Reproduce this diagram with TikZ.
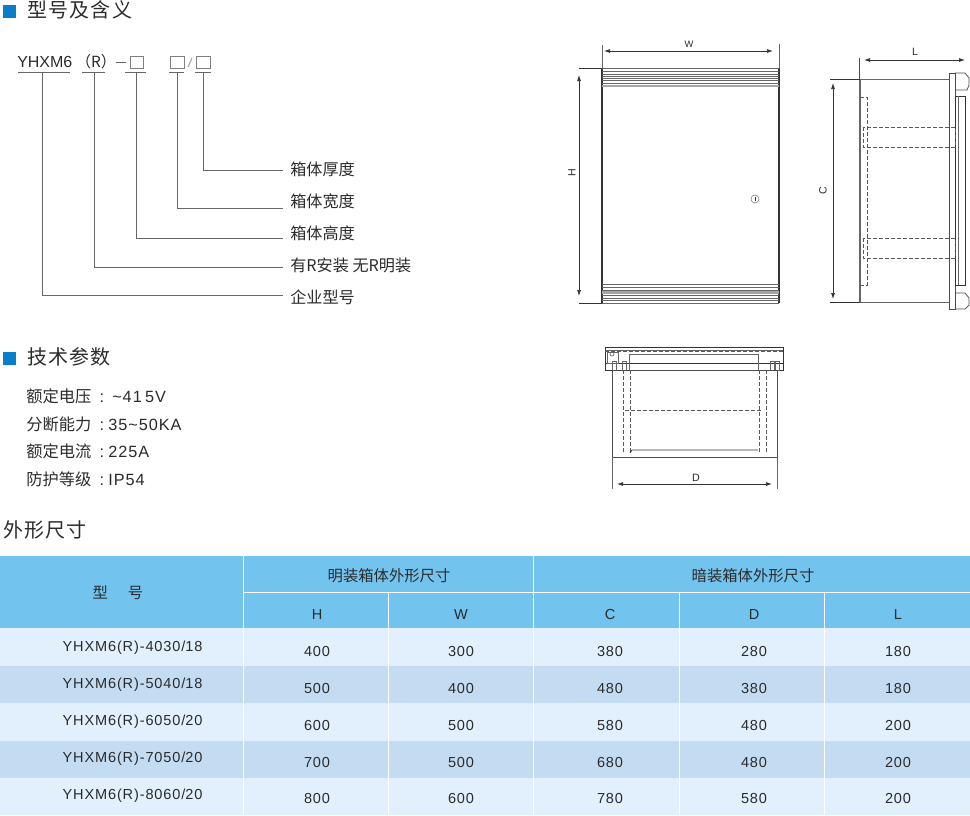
\documentclass[tikz,border=0pt]{standalone}
\usepackage{fontspec}
\setmainfont{Liberation Sans}
\newfontfamily\cjk{Noto Sans CJK SC}
\newfontfamily\cjkwide[LetterSpace=6]{Noto Sans CJK SC}
\newfontfamily\latinwide[LetterSpace=6]{Liberation Sans}
\usetikzlibrary{arrows,arrows.meta,positioning,calc}
\definecolor{markblue}{HTML}{0A7FC9}
\definecolor{headblue}{HTML}{73C3EF}
\definecolor{rowlight}{HTML}{E1F0FC}
\definecolor{rowdark}{HTML}{C4DCF2}
\definecolor{ink}{HTML}{2B2B2B}
\newcommand{\paramrow}[2]{\makebox[61.5pt][l]{\makebox[55pt][l]{\cjk #1}:}#2}
\tikzstyle{heading}=[anchor=west,inner sep=0pt,text=ink,font=\cjkwide\fontsize{15}{15}\selectfont]
\tikzstyle{mean}=[anchor=west,inner sep=0pt,text=ink,font=\cjk\fontsize{12.1}{12}\selectfont]
\tikzstyle{param}=[anchor=west,inner sep=0pt,text=ink,font=\latinwide\fontsize{12.2}{12}\selectfont]
\tikzstyle{cell}=[inner sep=0pt,text=ink,font=\latinwide\fontsize{10.9}{11}\selectfont]
\tikzstyle{headcell}=[inner sep=0pt,text=ink,font=\cjk\fontsize{11.5}{12}\selectfont]
\tikzstyle{dimtext}=[inner sep=0pt,text=ink,font=\fontsize{8}{8}\selectfont]
\tikzstyle{bullet}=[draw=none,fill=markblue,minimum size=9.5pt,inner sep=0pt]
\tikzstyle{lead}=[draw=black!60,line width=.7pt]
\tikzstyle{body}=[draw=black!80,line width=.55pt]
\tikzstyle{hidden}=[draw=black!65,line width=.55pt,dash pattern=on 3pt off 1.5pt]
\tikzstyle{dimline}=[draw=black!80,line width=.55pt,{Latex[length=4.5pt,width=3pt]}-{Latex[length=4.5pt,width=3pt]}]
\begin{document}
\begin{tikzpicture}[x=.75pt,y=-.75pt]
\useasboundingbox (0,0) rectangle (970,815);
% headings
\node [bullet] (m1) at (9.5,11.5) {};
\node [heading] (h1) at (27,9.5) {型号及含义};
\node [bullet] (m2) at (9.5,358.5) {};
\node [heading] (h2) at (27,357) {技术参数};
\node [heading] (h3) at (3,530) {外形尺寸};
% model code
\node [anchor=west,inner sep=0pt,text=ink,font=\fontsize{12}{12}\selectfont] (code) at (17,62) {YHXM6};
\node [inner sep=0pt,text=ink,font=\cjk\fontsize{11.5}{12}\selectfont] (opt) at (96,62) {（R）};
\draw [lead] (116,62) -- (126,62);
\draw [lead,black!50] (130,56) rectangle (143,68);
\draw [lead,black!50] (170,56) rectangle (184,68);
\draw [lead,black!50] (196,56) rectangle (210,68);
\draw [lead,black!40] (188,67) -- (192,58);
\foreach \a/\b in {18/70,82/105,125/146,169/184,195/211}
  \draw [lead] (\a,72) -- (\b,72);
\node [mean] (depth) at (290,169) {箱体厚度};
\node [mean] (width) at (290,201) {箱体宽度};
\node [mean] (height) at (290,233) {箱体高度};
\node [mean] (mount) at (290,265) {有R安装 无R明装};
\node [mean] (firm) at (290,297) {企业型号};
\foreach \n/\x/\y in {d/203/170,w/177/208,h/136/238,m/94/267,f/42/295} {
  \coordinate (\n top) at (\x,72);
  \coordinate (\n end) at (283,\y);
  \draw [lead] (\n top) |- (\n end);
}
% parameters
\node [param] (p1) at (26,396) {\paramrow{额定电压}{\hspace{3pt}\textasciitilde 41\hspace{2.5pt}5V}};
\node [param] (p2) at (26,424) {\paramrow{分断能力}{35\textasciitilde 50KA}};
\node [param] (p3) at (26,451) {\paramrow{额定电流}{225A}};
\node [param] (p4) at (26,479) {\paramrow{防护等级}{IP54}};
% front view
\draw [body,line width=1pt] (602,68) -- (602,303);
\draw [body,line width=.8pt] (779,68) -- (779,303);
\foreach \y in {68,71,74,76,78,80,83,86} \draw [body,black!60] (602,\y) -- (779,\y);
\foreach \y in {284,287,290,293,295,298,300,303} \draw [body,black!60] (602,\y) -- (779,\y);
\fill [black!35] (602,85) rectangle (779,87);
\fill [black!35] (602,291) rectangle (779,294);
\draw [body,black!60,line width=.35pt] (755,199) circle (4);
\draw [body,line width=.35pt] (755,197) -- (755,201);
\coordinate (wa) at (604,51);
\coordinate (wb) at (773,51);
\draw [lead,line width=.5pt] (602,45) -- (602,68);
\draw [lead,line width=.5pt] (779,44) -- (779,68);
\draw [dimline] (wa) -- (wb);
\node [dimtext,font=\fontsize{7}{7}\selectfont] (wlab) at (689,44) {W};
\coordinate (ha) at (579,75);
\coordinate (hb) at (579,296);
\draw [body,line width=.45pt] (579,68) -- (602,68);
\draw [body,line width=.45pt] (579,303) -- (602,303);
\draw [dimline] (ha) -- (hb);
\node [dimtext,rotate=90] (hlab) at (572,173) {H};
% side view
\draw [body,black!70] (859.5,58) -- (859.5,79);
\draw [body,black!60,line width=.8pt] (860,79) -- (860,302);
\draw [body,black!80,line width=.45pt] (830,79) -- (860,79);
\draw [body,black!80,line width=.45pt] (830,302) -- (860,302);
\draw [body,black!60,line width=.7pt] (860,79) -- (949,79);
\draw [body,black!60,line width=.7pt] (860,302) -- (949,302);
\draw [body,black!70] (949,73) rectangle (955,309);
\draw [body,black!70] (955,73) -- (965,73) -- (969,78) -- (969,85) -- (967,90) -- (955,90);
\draw [body,black!70] (955,293) -- (965,293) -- (969,298) -- (969,305) -- (965,309) -- (955,309);
\draw [body] (955,96) rectangle (965,285);
\draw [body,black!60] (958,96) -- (958,285);
\draw [hidden] (860,97) -- (867,97) -- (867,285) -- (860,285);
\draw [hidden] (863,127) rectangle (955,147);
\draw [hidden] (863,238) rectangle (955,258);
\coordinate (la) at (864,60);
\coordinate (lb) at (965,60);
\draw [dimline] (la) -- (lb);
\node [dimtext] (llab) at (915,52) {L};
\coordinate (ca) at (833,83);
\coordinate (cb) at (833,299);
\draw [dimline] (ca) -- (cb);
\node [dimtext,rotate=90] (clab) at (823,191) {C};
% bottom view
\draw [body] (605,347) rectangle (783,370);
\draw [body,black!60] (605,350) -- (783,350);
\draw [hidden] (605,351) -- (783,351);
\draw [body] (605,363) -- (783,363);
\draw [body,black!60] (629,370) -- (629,354) -- (758,354) -- (758,370);
\draw [body,black!60] (607,352) rectangle (618,363);
\draw [body,black!60] (612,354) circle (2);
\foreach \x in {612,622,770,775} \draw [body,black!60] (\x,361) rectangle (\x+4,370);
\draw [body,black!70] (612,370) rectangle (777,457);
\foreach \x in {623,630,759,766} \draw [hidden] (\x,370) -- (\x,453);
\draw [hidden] (625,410) -- (762,410);
\draw [body] (630,453) -- (632,450) -- (758,450);
\draw [body,black!60] (612,457) -- (612,489);
\draw [body,black!60] (777,457) -- (777,489);
\coordinate (da) at (617,484);
\coordinate (db) at (772,484);
\draw [dimline] (da) -- (db);
\node [dimtext] (dlab) at (696,478) {D};
% table
\fill [headblue] (0,556) rectangle (970,628);
\fill [rowlight] (0,628) rectangle (970,666);
\fill [rowdark] (0,666) rectangle (970,703);
\fill [rowlight] (0,703) rectangle (970,741);
\fill [rowdark] (0,741) rectangle (970,778);
\fill [rowlight] (0,778) rectangle (970,815);
\foreach \x in {243,533} \draw [white,line width=.6pt] (\x,556) -- (\x,815);
\foreach \x in {388,679,824} \draw [white,line width=.6pt] (\x,592) -- (\x,815);
\draw [white,line width=.6pt] (243,592) -- (970,592);
\node [headcell] (type) at (118,593) {型\hspace{15pt}号};
\node [headcell] (open) at (389,576) {明装箱体外形尺寸};
\node [headcell] (flush) at (753,576) {暗装箱体外形尺寸};
\foreach \x/\t in {317/H,461/W,610/C,754/D,898/L}
  \node [cell] (col\t) at (\x,614) {\t};
\foreach \r/\y/\ya/\m/\h/\w/\c/\d/\l in {
  1/648/651/4030\slash 18/400/300/380/280/180,
  2/685/688/5040\slash 18/500/400/480/380/180,
  3/722/725/6050\slash 20/600/500/580/480/200,
  4/759/762/7050\slash 20/700/500/680/480/200,
  5/796/798/8060\slash 20/800/600/780/580/200} {
  \node [cell] (type\r) at (132.5,\y) {YHXM6(R)-\m};
  \node [cell] (h\r) at (317,\ya) {\h};
  \node [cell] (w\r) at (461,\ya) {\w};
  \node [cell] (c\r) at (610,\ya) {\c};
  \node [cell] (d\r) at (754,\ya) {\d};
  \node [cell] (l\r) at (898,\ya) {\l};
}
\end{tikzpicture}
\end{document}
